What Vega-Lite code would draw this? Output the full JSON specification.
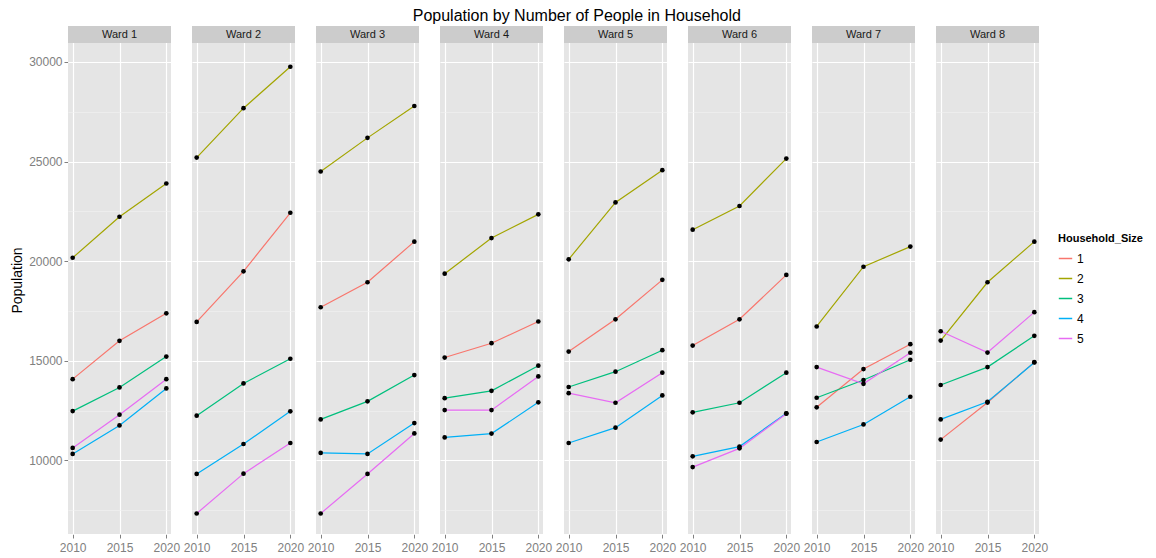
{
  "$schema": "https://vega.github.io/schema/vega-lite/v6.json",
  "padding": {"left": 10, "top": 8, "right": 5, "bottom": 5},
  "title": {"text": "Population by Number of People in Household", "fontSize": 16, "font": "Liberation Sans", "fontWeight": "normal", "color": "#000000", "anchor": "middle", "offset": 2},
  "data": {"values": [
    {"Ward":"Ward 1","Household_Size":"1","Year":2010,"Population":14075},
    {"Ward":"Ward 1","Household_Size":"1","Year":2015,"Population":16000},
    {"Ward":"Ward 1","Household_Size":"1","Year":2020,"Population":17380},
    {"Ward":"Ward 1","Household_Size":"2","Year":2010,"Population":20170},
    {"Ward":"Ward 1","Household_Size":"2","Year":2015,"Population":22230},
    {"Ward":"Ward 1","Household_Size":"2","Year":2020,"Population":23900},
    {"Ward":"Ward 1","Household_Size":"3","Year":2010,"Population":12470},
    {"Ward":"Ward 1","Household_Size":"3","Year":2015,"Population":13660},
    {"Ward":"Ward 1","Household_Size":"3","Year":2020,"Population":15210},
    {"Ward":"Ward 1","Household_Size":"4","Year":2010,"Population":10320},
    {"Ward":"Ward 1","Household_Size":"4","Year":2015,"Population":11750},
    {"Ward":"Ward 1","Household_Size":"4","Year":2020,"Population":13610},
    {"Ward":"Ward 1","Household_Size":"5","Year":2010,"Population":10620},
    {"Ward":"Ward 1","Household_Size":"5","Year":2015,"Population":12290},
    {"Ward":"Ward 1","Household_Size":"5","Year":2020,"Population":14075},
    {"Ward":"Ward 2","Household_Size":"1","Year":2010,"Population":16950},
    {"Ward":"Ward 2","Household_Size":"1","Year":2015,"Population":19490},
    {"Ward":"Ward 2","Household_Size":"1","Year":2020,"Population":22430},
    {"Ward":"Ward 2","Household_Size":"2","Year":2010,"Population":25200},
    {"Ward":"Ward 2","Household_Size":"2","Year":2015,"Population":27680},
    {"Ward":"Ward 2","Household_Size":"2","Year":2020,"Population":29760},
    {"Ward":"Ward 2","Household_Size":"3","Year":2010,"Population":12240},
    {"Ward":"Ward 2","Household_Size":"3","Year":2015,"Population":13860},
    {"Ward":"Ward 2","Household_Size":"3","Year":2020,"Population":15100},
    {"Ward":"Ward 2","Household_Size":"4","Year":2010,"Population":9315},
    {"Ward":"Ward 2","Household_Size":"4","Year":2015,"Population":10820},
    {"Ward":"Ward 2","Household_Size":"4","Year":2020,"Population":12460},
    {"Ward":"Ward 2","Household_Size":"5","Year":2010,"Population":7330},
    {"Ward":"Ward 2","Household_Size":"5","Year":2015,"Population":9330},
    {"Ward":"Ward 2","Household_Size":"5","Year":2020,"Population":10870},
    {"Ward":"Ward 3","Household_Size":"1","Year":2010,"Population":17685},
    {"Ward":"Ward 3","Household_Size":"1","Year":2015,"Population":18940},
    {"Ward":"Ward 3","Household_Size":"1","Year":2020,"Population":20980},
    {"Ward":"Ward 3","Household_Size":"2","Year":2010,"Population":24500},
    {"Ward":"Ward 3","Household_Size":"2","Year":2015,"Population":26190},
    {"Ward":"Ward 3","Household_Size":"2","Year":2020,"Population":27790},
    {"Ward":"Ward 3","Household_Size":"3","Year":2010,"Population":12055},
    {"Ward":"Ward 3","Household_Size":"3","Year":2015,"Population":12960},
    {"Ward":"Ward 3","Household_Size":"3","Year":2020,"Population":14280},
    {"Ward":"Ward 3","Household_Size":"4","Year":2010,"Population":10370},
    {"Ward":"Ward 3","Household_Size":"4","Year":2015,"Population":10320},
    {"Ward":"Ward 3","Household_Size":"4","Year":2020,"Population":11870},
    {"Ward":"Ward 3","Household_Size":"5","Year":2010,"Population":7330},
    {"Ward":"Ward 3","Household_Size":"5","Year":2015,"Population":9315},
    {"Ward":"Ward 3","Household_Size":"5","Year":2020,"Population":11350},
    {"Ward":"Ward 4","Household_Size":"1","Year":2010,"Population":15160},
    {"Ward":"Ward 4","Household_Size":"1","Year":2015,"Population":15880},
    {"Ward":"Ward 4","Household_Size":"1","Year":2020,"Population":16970},
    {"Ward":"Ward 4","Household_Size":"2","Year":2010,"Population":19370},
    {"Ward":"Ward 4","Household_Size":"2","Year":2015,"Population":21160},
    {"Ward":"Ward 4","Household_Size":"2","Year":2020,"Population":22350},
    {"Ward":"Ward 4","Household_Size":"3","Year":2010,"Population":13120},
    {"Ward":"Ward 4","Household_Size":"3","Year":2015,"Population":13490},
    {"Ward":"Ward 4","Household_Size":"3","Year":2020,"Population":14750},
    {"Ward":"Ward 4","Household_Size":"4","Year":2010,"Population":11150},
    {"Ward":"Ward 4","Household_Size":"4","Year":2015,"Population":11340},
    {"Ward":"Ward 4","Household_Size":"4","Year":2020,"Population":12910},
    {"Ward":"Ward 4","Household_Size":"5","Year":2010,"Population":12520},
    {"Ward":"Ward 4","Household_Size":"5","Year":2015,"Population":12520},
    {"Ward":"Ward 4","Household_Size":"5","Year":2020,"Population":14210},
    {"Ward":"Ward 5","Household_Size":"1","Year":2010,"Population":15460},
    {"Ward":"Ward 5","Household_Size":"1","Year":2015,"Population":17080},
    {"Ward":"Ward 5","Household_Size":"1","Year":2020,"Population":19060},
    {"Ward":"Ward 5","Household_Size":"2","Year":2010,"Population":20090},
    {"Ward":"Ward 5","Household_Size":"2","Year":2015,"Population":22950},
    {"Ward":"Ward 5","Household_Size":"2","Year":2020,"Population":24570},
    {"Ward":"Ward 5","Household_Size":"3","Year":2010,"Population":13680},
    {"Ward":"Ward 5","Household_Size":"3","Year":2015,"Population":14450},
    {"Ward":"Ward 5","Household_Size":"3","Year":2020,"Population":15530},
    {"Ward":"Ward 5","Household_Size":"4","Year":2010,"Population":10870},
    {"Ward":"Ward 5","Household_Size":"4","Year":2015,"Population":11640},
    {"Ward":"Ward 5","Household_Size":"4","Year":2020,"Population":13260},
    {"Ward":"Ward 5","Household_Size":"5","Year":2010,"Population":13370},
    {"Ward":"Ward 5","Household_Size":"5","Year":2015,"Population":12890},
    {"Ward":"Ward 5","Household_Size":"5","Year":2020,"Population":14400},
    {"Ward":"Ward 6","Household_Size":"1","Year":2010,"Population":15760},
    {"Ward":"Ward 6","Household_Size":"1","Year":2015,"Population":17080},
    {"Ward":"Ward 6","Household_Size":"1","Year":2020,"Population":19310},
    {"Ward":"Ward 6","Household_Size":"2","Year":2010,"Population":21580},
    {"Ward":"Ward 6","Household_Size":"2","Year":2015,"Population":22770},
    {"Ward":"Ward 6","Household_Size":"2","Year":2020,"Population":25150},
    {"Ward":"Ward 6","Household_Size":"3","Year":2010,"Population":12410},
    {"Ward":"Ward 6","Household_Size":"3","Year":2015,"Population":12890},
    {"Ward":"Ward 6","Household_Size":"3","Year":2020,"Population":14400},
    {"Ward":"Ward 6","Household_Size":"4","Year":2010,"Population":10200},
    {"Ward":"Ward 6","Household_Size":"4","Year":2015,"Population":10690},
    {"Ward":"Ward 6","Household_Size":"4","Year":2020,"Population":12360},
    {"Ward":"Ward 6","Household_Size":"5","Year":2010,"Population":9660},
    {"Ward":"Ward 6","Household_Size":"5","Year":2015,"Population":10600},
    {"Ward":"Ward 6","Household_Size":"5","Year":2020,"Population":12340},
    {"Ward":"Ward 7","Household_Size":"1","Year":2010,"Population":12660},
    {"Ward":"Ward 7","Household_Size":"1","Year":2015,"Population":14580},
    {"Ward":"Ward 7","Household_Size":"1","Year":2020,"Population":15830},
    {"Ward":"Ward 7","Household_Size":"2","Year":2010,"Population":16720},
    {"Ward":"Ward 7","Household_Size":"2","Year":2015,"Population":19720},
    {"Ward":"Ward 7","Household_Size":"2","Year":2020,"Population":20730},
    {"Ward":"Ward 7","Household_Size":"3","Year":2010,"Population":13140},
    {"Ward":"Ward 7","Household_Size":"3","Year":2015,"Population":14030},
    {"Ward":"Ward 7","Household_Size":"3","Year":2020,"Population":15050},
    {"Ward":"Ward 7","Household_Size":"4","Year":2010,"Population":10920},
    {"Ward":"Ward 7","Household_Size":"4","Year":2015,"Population":11800},
    {"Ward":"Ward 7","Household_Size":"4","Year":2020,"Population":13190},
    {"Ward":"Ward 7","Household_Size":"5","Year":2010,"Population":14680},
    {"Ward":"Ward 7","Household_Size":"5","Year":2015,"Population":13840},
    {"Ward":"Ward 7","Household_Size":"5","Year":2020,"Population":15400},
    {"Ward":"Ward 8","Household_Size":"1","Year":2010,"Population":11040},
    {"Ward":"Ward 8","Household_Size":"1","Year":2015,"Population":12900},
    {"Ward":"Ward 8","Household_Size":"1","Year":2020,"Population":14930},
    {"Ward":"Ward 8","Household_Size":"2","Year":2010,"Population":16010},
    {"Ward":"Ward 8","Household_Size":"2","Year":2015,"Population":18940},
    {"Ward":"Ward 8","Household_Size":"2","Year":2020,"Population":20980},
    {"Ward":"Ward 8","Household_Size":"3","Year":2010,"Population":13780},
    {"Ward":"Ward 8","Household_Size":"3","Year":2015,"Population":14680},
    {"Ward":"Ward 8","Household_Size":"3","Year":2020,"Population":16250},
    {"Ward":"Ward 8","Household_Size":"4","Year":2010,"Population":12055},
    {"Ward":"Ward 8","Household_Size":"4","Year":2015,"Population":12940},
    {"Ward":"Ward 8","Household_Size":"4","Year":2020,"Population":14910},
    {"Ward":"Ward 8","Household_Size":"5","Year":2010,"Population":16480},
    {"Ward":"Ward 8","Household_Size":"5","Year":2015,"Population":15410},
    {"Ward":"Ward 8","Household_Size":"5","Year":2020,"Population":17440}
  ]},
  "facet": {"column": {"field": "Ward", "type": "nominal", "title": null, "header": {"labels": false, "title": null}}},
  "spacing": 21,
  "spec": {
    "width": 103,
    "height": 508,
    "layer": [
      {
        "mark": {"type": "line", "strokeWidth": 1.2},
        "encoding": {
          "x": {"field": "Year", "type": "quantitative", "title": null,
            "scale": {"domain": [2009.5, 2020.5], "nice": false, "zero": false},
            "axis": {"values": [2010, 2012.5, 2015, 2017.5, 2020], "format": "d", "labelFlush": false, "labelOverlap": false, "labelPadding": 4,
              "labelExpr": "datum.value % 5 === 0 ? datum.label : ''",
              "gridColor": {"condition": {"test": "datum.value % 5 === 0", "value": "#FFFFFF"}, "value": "#F2F2F2"},
              "gridWidth": {"condition": {"test": "datum.value % 5 === 0", "value": 1.2}, "value": 0.6},
              "tickOpacity": {"condition": {"test": "datum.value % 5 === 0", "value": 1}, "value": 0}}},
          "y": {"field": "Population", "type": "quantitative", "title": "Population",
            "scale": {"domain": [6300, 31807], "nice": false, "zero": false},
            "axis": {"values": [7500, 10000, 12500, 15000, 17500, 20000, 22500, 25000, 27500, 30000], "format": "d", "labelOverlap": false,
              "labelExpr": "datum.value % 5000 === 0 ? datum.label : ''",
              "gridColor": {"condition": {"test": "datum.value % 5000 === 0", "value": "#FFFFFF"}, "value": "#F2F2F2"},
              "gridWidth": {"condition": {"test": "datum.value % 5000 === 0", "value": 1.2}, "value": 0.6},
              "tickOpacity": {"condition": {"test": "datum.value % 5000 === 0", "value": 1}, "value": 0}}},
          "color": {"field": "Household_Size", "type": "nominal", "title": "Household_Size",
            "scale": {"domain": ["1", "2", "3", "4", "5"], "range": ["#F8766D", "#A3A500", "#00BF7D", "#00B0F6", "#E76BF3"]},
            "legend": {"orient": "none", "legendX": 990, "legendY": 207, "symbolType": "stroke", "symbolStrokeWidth": 1.5, "symbolSize": 180, "titleFontSize": 11, "titleFontWeight": "bold", "titleColor": "#000000", "labelFontSize": 12, "labelColor": "#000000", "rowPadding": 6, "titlePadding": 7}}
        }
      },
      {
        "mark": {"type": "point", "filled": true, "color": "#000000", "size": 22, "opacity": 1},
        "encoding": {
          "x": {"field": "Year", "type": "quantitative", "title": null},
          "y": {"field": "Population", "type": "quantitative", "title": "Population"}
        }
      },
      {
        "transform": [{"aggregate": [{"op": "count", "as": "n"}], "groupby": ["Ward"]}],
        "mark": {"type": "rect", "fill": "#CCCCCC"},
        "encoding": {
          "x": {"datum": 2009.5, "type": "quantitative", "title": null},
          "x2": {"datum": 2020.5},
          "y": {"datum": 30954, "type": "quantitative", "title": "Population"},
          "y2": {"datum": 31807}
        }
      },
      {
        "transform": [{"aggregate": [{"op": "count", "as": "n"}], "groupby": ["Ward"]}],
        "mark": {"type": "text", "fontSize": 11, "color": "#1A1A1A", "font": "Liberation Sans", "baseline": "middle", "align": "center"},
        "encoding": {
          "text": {"field": "Ward", "type": "nominal"},
          "x": {"datum": 2015, "type": "quantitative", "title": null},
          "y": {"datum": 31380, "type": "quantitative", "title": "Population"}
        }
      }
    ]
  },
  "config": {
    "font": "Liberation Sans",
    "view": {"fill": "#E5E5E5", "stroke": null},
    "axis": {"domain": false, "labelColor": "#808080", "labelFontSize": 12, "labelFont": "Liberation Sans", "tickColor": "#808080", "tickSize": 4, "labelPadding": 2, "titleFont": "Liberation Sans", "titleFontWeight": "normal", "titleFontSize": 14, "titleColor": "#000000", "titlePadding": 4},
    "legend": {"labelFont": "Liberation Sans", "titleFont": "Liberation Sans"}
  }
}
